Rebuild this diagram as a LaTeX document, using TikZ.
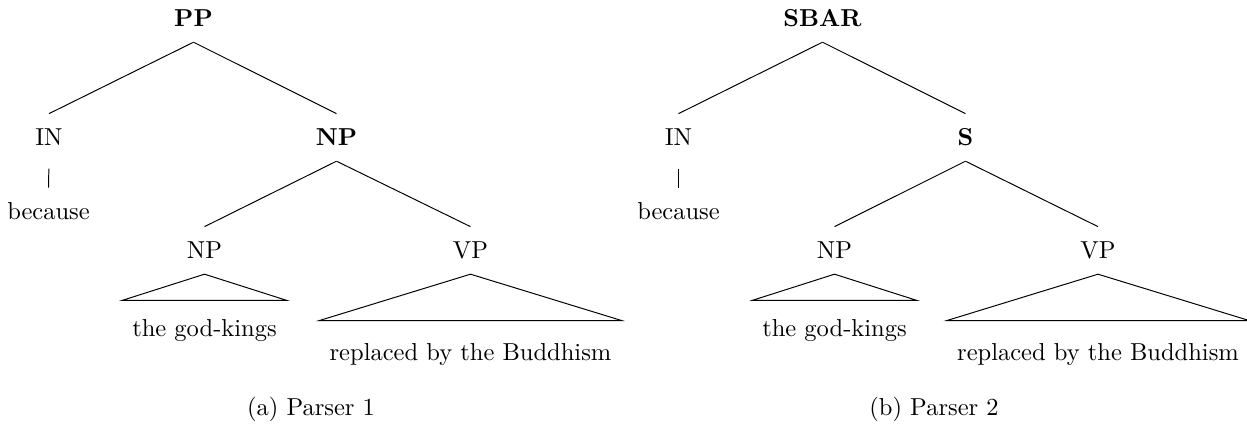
\documentclass[tikz,border=0pt]{standalone}
\begin{document}
\begin{tikzpicture}[x=0.408pt, y=-0.408pt,
  cat/.style={inner sep=0pt, text height=13pt, text depth=6pt, anchor=base},
  leaf/.style={inner xsep=4pt, inner ysep=0pt, text height=14.7pt, text depth=0pt, anchor=base},
  capt/.style={anchor=base},
  every path/.style={line width=0.4pt}]
\useasboundingbox (0,0) rectangle (1247,431);
% ---- (a) Parser 1
\node[cat] (PP) at (193.5,27) {\textbf{PP}};
\node[cat] (IN1) at (49,146) {IN};
\node[cat] (NP1) at (336.5,146) {\textbf{NP}};
\node[cat] (bec1) at (48.5,220) {because};
\node[cat] (NPa) at (204.5,259) {NP};
\node[cat] (VPa) at (470.5,259) {VP};
\node[leaf] (gk1) at (204.5,337) {the god-kings};
\node[leaf, text height=16.3pt] (rep1) at (470.5,361) {replaced by the Buddhism};
\node[capt] (capa) at (311,416) {(a) Parser 1};
\draw (PP.south) -- (IN1.north);
\draw (PP.south) -- (NP1.north);
\draw[shorten <=3pt] (IN1.south) -- (bec1.north);
\draw (NP1.south) -- (NPa.north);
\draw (NP1.south) -- (VPa.north);
\draw (NPa.south) -- (gk1.north west) -- (gk1.north east) -- cycle;
\draw (VPa.south) -- (rep1.north west) -- (rep1.north east) -- cycle;
% ---- (b) Parser 2
\node[cat] (SBAR) at (822.5,27) {\textbf{SBAR}};
\node[cat] (IN2) at (678.5,146) {IN};
\node[cat] (S) at (965.5,146) {\textbf{S}};
\node[cat] (bec2) at (678.5,220) {because};
\node[cat] (NPb) at (834.5,259) {NP};
\node[cat] (VPb) at (1098,259) {VP};
\node[leaf] (gk2) at (834.5,337) {the god-kings};
\node[leaf, text height=16.3pt] (rep2) at (1098,361) {replaced by the Buddhism};
\node[capt] (capb) at (934,416) {(b) Parser 2};
\draw (SBAR.south) -- (IN2.north);
\draw (SBAR.south) -- (S.north);
\draw[shorten <=3pt] (IN2.south) -- (bec2.north);
\draw (S.south) -- (NPb.north);
\draw (S.south) -- (VPb.north);
\draw (NPb.south) -- (gk2.north west) -- (gk2.north east) -- cycle;
\draw (VPb.south) -- (rep2.north west) -- (rep2.north east) -- cycle;
\end{tikzpicture}
\end{document}
